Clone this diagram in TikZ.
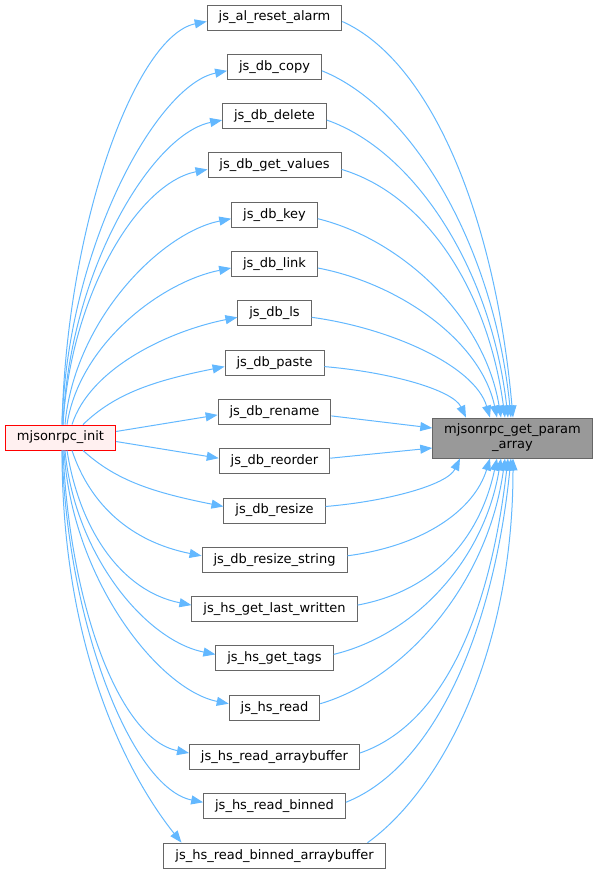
\documentclass[tikz,border=0pt]{standalone}
\usepackage{fontspec}
\newfontfamily\graphfont{DejaVu Sans}
\usepackage{tikz}
\usetikzlibrary{arrows.meta, positioning, calc}
\definecolor{edgeblue}{HTML}{63B8FF}
\definecolor{boxgray}{HTML}{666666}
\definecolor{mainfill}{HTML}{999999}
\definecolor{initfill}{HTML}{FFF0F0}

\begin{document}
\begin{tikzpicture}[x=1pt, y=-1pt,
    fn/.style={draw=boxgray, fill=white, line width=0.9pt, minimum height=25pt,
        inner xsep=11.5pt, inner ysep=0pt, font=\graphfont\fontsize{13}{15}\selectfont},
    edge/.style={-{Triangle[length=12pt, width=9pt]}, draw=edgeblue, line width=1pt}]
        \useasboundingbox (0, 0) rectangle (597, 875);
        % functions in the middle column
        \node[fn] (reset)       at (274.5, 17.5)  {js\_al\_reset\_alarm};
        \node[fn] (copy)        at (274.5, 66.8)  {js\_db\_copy};
        \node[fn] (delete)      at (274.5, 116.1) {js\_db\_delete};
        \node[fn] (getvalues)   at (274.5, 165.4) {js\_db\_get\_values};
        \node[fn] (key)         at (274.5, 214.7) {js\_db\_key};
        \node[fn] (link)        at (274.5, 264.0) {js\_db\_link};
        \node[fn] (ls)          at (274.5, 313.3) {js\_db\_ls};
        \node[fn] (paste)       at (274.5, 362.6) {js\_db\_paste};
        \node[fn] (rename)      at (274.5, 411.9) {js\_db\_rename};
        \node[fn] (reorder)     at (274.5, 461.2) {js\_db\_reorder};
        \node[fn] (resize)      at (274.5, 510.5) {js\_db\_resize};
        \node[fn] (resizestr)   at (274.5, 559.8) {js\_db\_resize\_string};
        \node[fn] (lastwritten) at (274.5, 609.1) {js\_hs\_get\_last\_written};
        \node[fn] (tags)        at (274.5, 658.4) {js\_hs\_get\_tags};
        \node[fn] (read)        at (274.5, 707.7) {js\_hs\_read};
        \node[fn] (readab)      at (274.5, 757.0) {js\_hs\_read\_arraybuffer};
        \node[fn] (binned)      at (274.5, 806.3) {js\_hs\_read\_binned};
        \node[fn] (binnedab)    at (274.5, 855.6) {js\_hs\_read\_binned\_arraybuffer};

        \node[fn, draw=red, fill=initfill] (init) at (60.5, 437.5) {mjsonrpc\_init};
        \node[fn, fill=mainfill, minimum height=40pt, align=center] (param) at (512.5, 438)
            {mjsonrpc\_get\_param\\\_array};

        % callers above
        \foreach \n/\y/\sx/\ex in {reset/17.5/62/513, copy/66.8/62/511, delete/116.1/63/508,
                getvalues/165.4/63/505, key/214.7/65/501, link/264.0/67/497,
                ls/313.3/72/490, paste/362.6/83/466} {
            \pgfmathsetmacro\hl{425-\y}
            \pgfmathsetmacro\hr{418-\y}
            \pgfmathsetmacro\cx{2000/\hl}
            \pgfmathsetmacro\dr{\ex-335}
            \pgfmathsetmacro\dsx{\sx-60.5}
            \pgfmathsetmacro\dex{\ex-512.5}
            \draw[edge] ([xshift=\dsx pt]init.north) .. controls +(\cx, -0.5*\hl) and +(-70, 14) .. ([yshift=-4pt]\n.west);
            \draw[edge] ([yshift=-4pt]\n.east) .. controls +(0.5*\dr, 0.1*\hr) and +(-0.1*\dr, -0.5*\hr) .. ([xshift=\dex pt]param.north);
        }
        % callers below
        \foreach \n/\y/\sx/\ex in {resize/510.5/83/460, resizestr/559.8/72/490, lastwritten/609.1/67/497,
                tags/658.4/65/501, read/707.7/64/505, readab/757.0/63/508, binned/806.3/62/511} {
            \pgfmathsetmacro\hl{\y-450}
            \pgfmathsetmacro\hr{\y-458}
            \pgfmathsetmacro\cx{2000/\hl}
            \pgfmathsetmacro\dr{\ex-335}
            \pgfmathsetmacro\dsx{\sx-60.5}
            \pgfmathsetmacro\dex{\ex-512.5}
            \draw[edge] ([xshift=\dsx pt]init.south) .. controls +(\cx, 0.5*\hl) and +(-70, -14) .. ([yshift=4pt]\n.west);
            \draw[edge] ([yshift=4pt]\n.east) .. controls +(0.5*\dr, -0.1*\hr) and +(-0.1*\dr, 0.5*\hr) .. ([xshift=\dex pt]param.south);
        }
        \draw[edge] ([xshift=1.5pt]init.south) .. controls +(0, 220) and +(-40, -50) .. ([xshift=18pt]binnedab.north west);
        \draw[edge] ([xshift=-18pt]binnedab.north east) .. controls +(70, -50) and +(0, 200) .. ([xshift=0.5pt]param.south);

        % straight ones
        \draw[edge] ([yshift=6pt]init.east) -- ([yshift=-3pt]rename.west);
        \draw[edge] ([yshift=-4pt]init.east) -- ([yshift=3pt]reorder.west);
        \draw[edge] ([yshift=-4pt]rename.east) -- ([yshift=10pt]param.west);
        \draw[edge] ([yshift=3pt]reorder.east) -- ([yshift=-10pt]param.west);
\end{tikzpicture}
\end{document}
